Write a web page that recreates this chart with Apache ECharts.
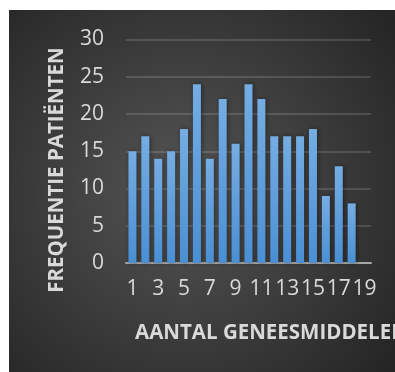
<!DOCTYPE html>
<html>
<head>
<meta charset="utf-8">
<script src="https://cdn.jsdelivr.net/npm/echarts@6/dist/echarts.min.js"></script>
<style>
  html, body { margin: 0; padding: 0; background: #ffffff; }
  #chart { width: 395px; height: 372px; }
</style>
</head>
<body>
<div id="chart"></div>
<script>
// Number of medicines per patient (categories) and patient frequency
const categories = ['1','2','3','4','5','6','7','8','9','10','11','12','13','14','15','16','17','18','19'];
const frequencies = [15, 17, 14, 15, 18, 24, 14, 22, 16, 24, 22, 17, 17, 17, 18, 9, 13, 8, null];
const yTicks = { min: 0, max: 30, interval: 5 };
const xTitle = 'AANTAL GENEESMIDDELEN';
const yTitle = 'FREQUENTIE PATIËNTEN';

const textColor = '#d9d9d9';
const font = '"Open Sans", "Noto Sans", sans-serif';

const chart = echarts.init(document.getElementById('chart'), null, { renderer: 'canvas' });

chart.setOption({
  backgroundColor: '#ffffff',
  animation: false,
  graphic: [
    {
      type: 'rect',
      z: -10,
      silent: true,
      shape: { x: 9, y: 10, width: 386, height: 362 },
      style: {
        fill: new echarts.graphic.RadialGradient(0.45, 0.5, 0.75, [
          { offset: 0, color: '#555555' },
          { offset: 1, color: '#252525' }
        ])
      }
    },
    {
      // horizontal axis title
      type: 'text',
      x: 135,
      y: 333,
      style: {
        text: xTitle,
        fill: textColor,
        font: 'bold 20.5px ' + font,
        verticalAlign: 'middle'
      }
    },
    {
      // vertical axis title
      type: 'text',
      x: 57,
      y: 170,
      rotation: Math.PI / 2,
      style: {
        text: yTitle,
        fill: textColor,
        font: 'bold 20.5px ' + font,
        align: 'center',
        verticalAlign: 'middle'
      }
    }
  ],
  grid: { left: 126, right: 24, top: 39.5, bottom: 109 },
  xAxis: {
    type: 'category',
    data: categories,
    axisTick: { show: false },
    axisLine: { lineStyle: { color: '#a6a6a6', width: 2 } },
    axisLabel: {
      interval: 1,
      color: textColor,
      fontSize: 21,
      fontFamily: font,
      margin: 16
    }
  },
  yAxis: {
    type: 'value',
    min: yTicks.min,
    max: yTicks.max,
    interval: yTicks.interval,
    axisLine: { show: false },
    axisTick: { show: false },
    axisLabel: {
      color: textColor,
      fontSize: 21,
      fontFamily: font,
      margin: 22
    },
    splitLine: { lineStyle: { color: 'rgba(255,255,255,0.14)', width: 2 } }
  },
  series: [{
    type: 'bar',
    data: frequencies,
    barWidth: 8,
    itemStyle: {
      color: new echarts.graphic.LinearGradient(0, 0, 0, 1, [
        { offset: 0, color: '#75ade3' },
        { offset: 1, color: '#4a8fd4' }
      ]),
      shadowBlur: 5,
      shadowColor: 'rgba(0,0,0,0.45)',
      shadowOffsetX: 1
    }
  }]
});
</script>
</body>
</html>
